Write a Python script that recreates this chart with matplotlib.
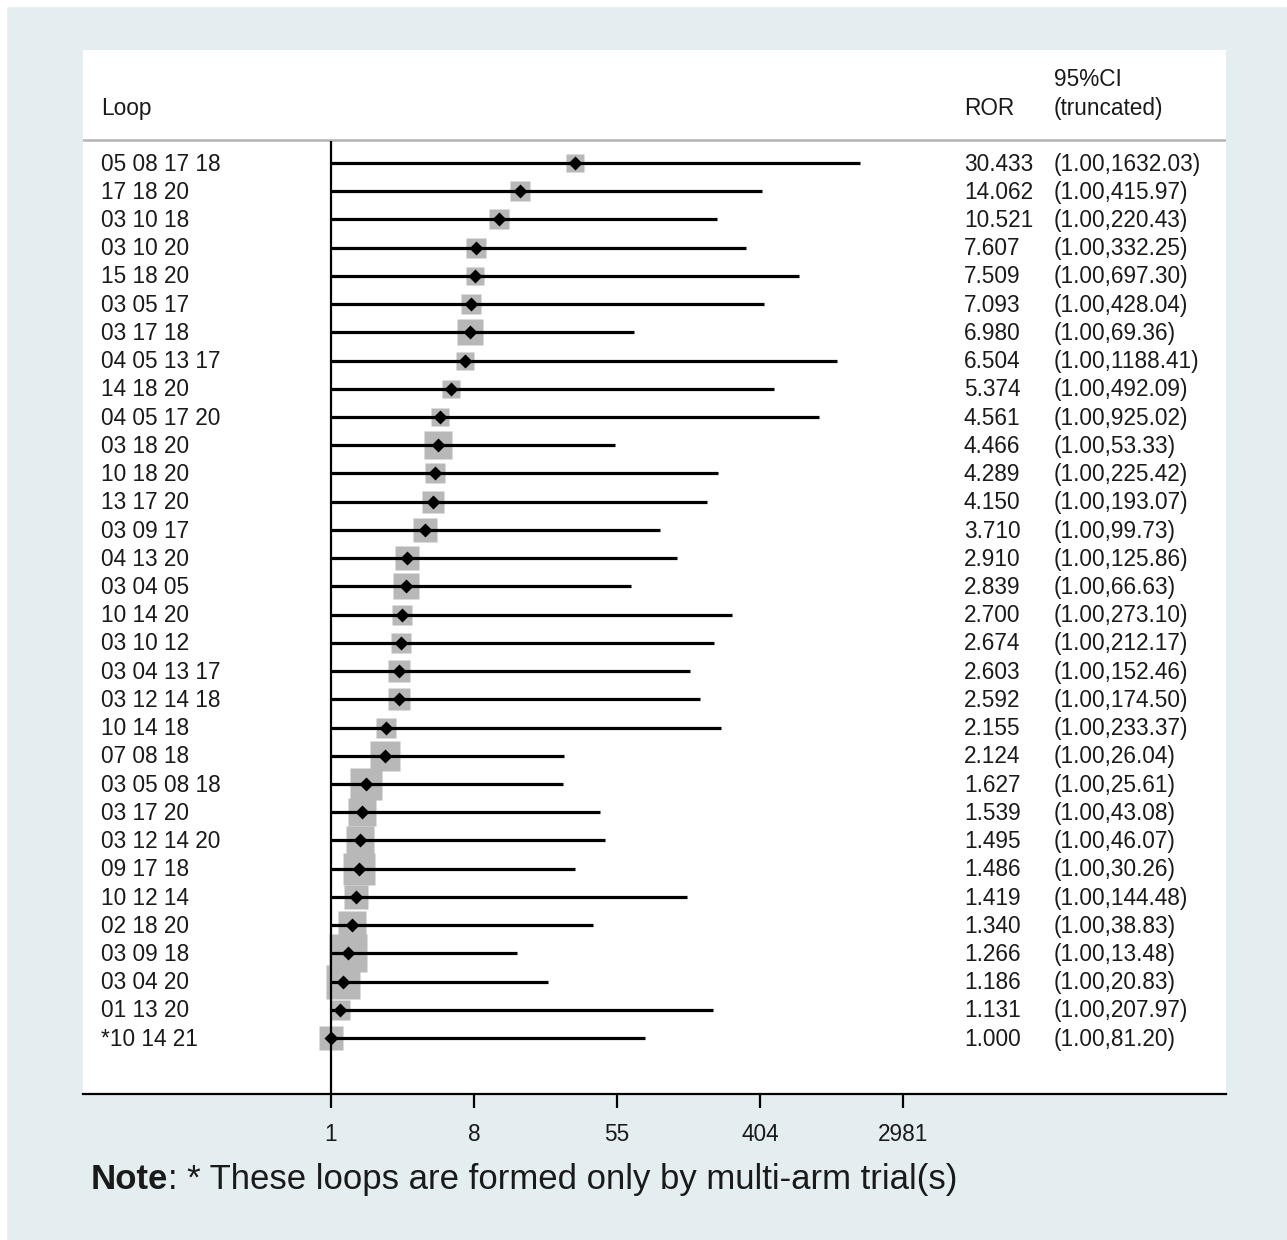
import numpy as np
import matplotlib
matplotlib.use("Agg")
import matplotlib.pyplot as plt
import matplotlib.transforms as mtransforms

plt.rcParams['font.family'] = ['Liberation Sans', 'DejaVu Sans']

# loop-specific inconsistency estimates (ratio of odds ratios)
loops = ["05 08 17 18", "17 18 20", "03 10 18", "03 10 20", "15 18 20",
         "03 05 17", "03 17 18", "04 05 13 17", "14 18 20", "04 05 17 20",
         "03 18 20", "10 18 20", "13 17 20", "03 09 17", "04 13 20",
         "03 04 05", "10 14 20", "03 10 12", "03 04 13 17", "03 12 14 18",
         "10 14 18", "07 08 18", "03 05 08 18", "03 17 20", "03 12 14 20",
         "09 17 18", "10 12 14", "02 18 20", "03 09 18", "03 04 20",
         "01 13 20", "*10 14 21"]
ror = [30.433, 14.062, 10.521, 7.607, 7.509, 7.093, 6.980, 6.504, 5.374,
       4.561, 4.466, 4.289, 4.150, 3.710, 2.910, 2.839, 2.700, 2.674, 2.603,
       2.592, 2.155, 2.124, 1.627, 1.539, 1.495, 1.486, 1.419, 1.340, 1.266,
       1.186, 1.131, 1.000]
ci_low = [1.00] * 32
ci_high = [1632.03, 415.97, 220.43, 332.25, 697.30, 428.04, 69.36, 1188.41,
           492.09, 925.02, 53.33, 225.42, 193.07, 99.73, 125.86, 66.63,
           273.10, 212.17, 152.46, 174.50, 233.37, 26.04, 25.61, 43.08,
           46.07, 30.26, 144.48, 38.83, 13.48, 20.83, 207.97, 81.20]
weight = [2.9, 4.0, 4.4, 4.0, 3.2, 4.0, 6.8, 2.9, 3.6, 3.2, 7.3, 4.4, 4.8,
          5.8, 5.8, 6.8, 4.4, 4.4, 4.8, 4.8, 4.4, 9.6, 10.2, 7.8, 7.8, 10.2,
          5.3, 8.4, 15.2, 12.2, 4.4, 6.2]
tick_vals = np.exp([0, 2, 4, 6, 8])
tick_labels = ["1", "8", "55", "404", "2981"]

W, H = 1287, 1240
bg = "#e4eef0"
fig = plt.figure(figsize=(W / 100, H / 100), dpi=100, facecolor=bg)
# thin white border on top and left edges
fig.patches.append(plt.Rectangle((0, 0), 6 / W, 1, transform=fig.transFigure,
                                 color="white", zorder=0))
fig.patches.append(plt.Rectangle((0, 1 - 6 / H), 1, 6 / H, transform=fig.transFigure,
                                 color="white", zorder=0))

x0, x1, ytop, ybot = 83, 1226, 50, 1094
ax = fig.add_axes([x0 / W, (H - ybot) / H, (x1 - x0) / W, (ybot - ytop) / H])
ax.set_facecolor("white")
ax.set_xscale("log")
px_per_ln = 71.5
ax.set_xlim(np.exp((x0 - 331) / px_per_ln), np.exp((x1 - 331) / px_per_ln))
ax.set_ylim(32.98, -4.0)

n = len(loops)
ypos = np.arange(n)
txt = "#1a1a1a"
fs = 16.3
base = 0.27  # baseline offset so the digits sit centred on each row

# confidence interval lines
ax.hlines(ypos, ci_low, ci_high, color="black", lw=2.3, zorder=3)
# weight boxes and point estimates
for i in range(n):
    side_pt = 10 * np.sqrt(weight[i]) * 72 / 100
    ax.plot(ror[i], ypos[i], marker="s", ms=side_pt, color="#b8b8b8",
            mec="none", zorder=2)
ax.plot(ror, ypos, "D", color="black", ms=7.5, mec="none", zorder=4)

# null line
ax.vlines(1, -0.78, 32.98, color="black", lw=1.6, zorder=3)
# header separator
ax.axhline(-0.82, color="#b3b3b3", lw=1.8, zorder=1)

trans = mtransforms.blended_transform_factory(ax.transAxes, ax.transData)
xl, xr, xc = (101 - x0) / (x1 - x0), (964 - x0) / (x1 - x0), (1054 - x0) / (x1 - x0)


def put(x, y, s):
    ax.text(x, y + base, s, transform=trans, va="baseline", ha="left",
            fontsize=fs, color=txt)


for i in range(n):
    put(xl, ypos[i], loops[i])
    put(xr, ypos[i], f"{ror[i]:.3f}")
    put(xc, ypos[i], f"({ci_low[i]:.2f},{ci_high[i]:.2f})")

put(xl, -1.98, "Loop")
put(xr, -1.98, "ROR")
put(xc, -1.98, "(truncated)")
put(xc, -3.0, "95%CI")

for s in ["top", "left", "right"]:
    ax.spines[s].set_visible(False)
ax.spines["bottom"].set_linewidth(1.6)
ax.set_yticks([])
ax.set_xticks(tick_vals)
ax.set_xticklabels(tick_labels)
ax.xaxis.set_minor_locator(matplotlib.ticker.NullLocator())
ax.tick_params(axis="x", length=10, width=1.6, pad=11, labelsize=fs, labelcolor=txt)

# footnote: bold "Note" followed by the plain remainder
fig.canvas.draw()
r = fig.canvas.get_renderer()
yn = (H - 1189) / H
t1 = fig.text(91 / W, yn, "Note", fontsize=25, fontweight="bold",
              va="baseline", ha="left", color=txt)
bb = t1.get_window_extent(renderer=r)
fig.text(bb.x1 / W, yn, ": * These loops are formed only by multi-arm trial(s)",
         fontsize=25, va="baseline", ha="left", color=txt)

fig.savefig("out.png", dpi=100, facecolor=bg)
